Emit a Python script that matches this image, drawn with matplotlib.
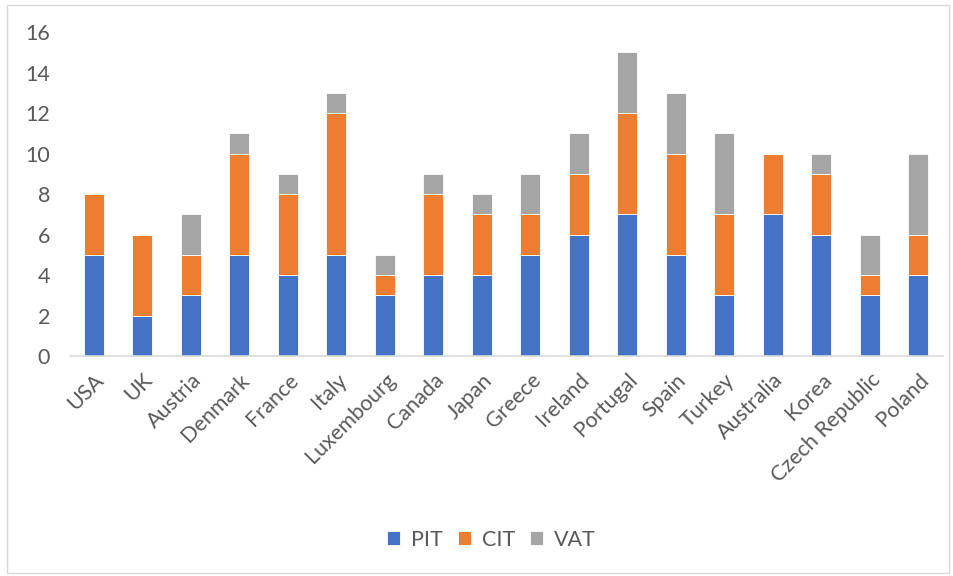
import numpy as np
import matplotlib.pyplot as plt
from matplotlib.patches import Rectangle

countries = ['USA', 'UK', 'Austria', 'Denmark', 'France', 'Italy', 'Luxembourg',
             'Canada', 'Japan', 'Greece', 'Ireland', 'Portugal', 'Spain', 'Turkey',
             'Australia', 'Korea', 'Czech Republic', 'Poland']
pit = [5, 2, 3, 5, 4, 5, 3, 4, 4, 5, 6, 7, 5, 3, 7, 6, 3, 4]
cit = [3, 4, 2, 5, 4, 7, 1, 4, 3, 2, 3, 5, 5, 4, 3, 3, 1, 2]
vat = [0, 0, 2, 1, 1, 1, 1, 1, 1, 2, 2, 3, 3, 4, 0, 1, 2, 4]

plt.rcParams['font.family'] = ['Lato', 'DejaVu Sans']

fig = plt.figure(figsize=(9.54, 5.76), dpi=100)
ax = fig.add_axes([0.073, 0.382, 0.915, 0.562])

x = np.arange(len(countries))
w = 0.41
pit = np.array(pit)
cit = np.array(cit)
vat = np.array(vat)

ax.bar(x, pit, w, color='#4472C4', edgecolor='white', linewidth=0.6, label='PIT')
ax.bar(x, cit, w, bottom=pit, color='#ED7D31', edgecolor='white', linewidth=0.6, label='CIT')
ax.bar(x, vat, w, bottom=pit + cit, color='#A5A5A5', edgecolor='white', linewidth=0.6, label='VAT')

ax.set_xlim(-0.5, len(countries) - 0.5)
ax.set_ylim(0, 16)
ax.set_yticks(range(0, 17, 2))
ax.set_xticks(x)
ax.set_xticklabels(countries, rotation=45, ha='right', rotation_mode='anchor')
ax.tick_params(axis='both', length=0, labelsize=15.5, colors='#595959')
ax.tick_params(axis='y', pad=14)
ax.tick_params(axis='x', pad=10)

for s in ['top', 'right', 'left']:
    ax.spines[s].set_visible(False)
ax.spines['bottom'].set_color('#D9D9D9')
ax.spines['bottom'].set_linewidth(1.2)

fig.legend(loc='center', bbox_to_anchor=(0.515, 0.063), ncol=3, frameon=False,
           fontsize=15.5, handlelength=0.6, handleheight=0.6, columnspacing=0.7,
           handletextpad=0.5, labelcolor='#595959')

fig.patches.append(Rectangle((0.007, 0.006), 0.988, 0.985, transform=fig.transFigure,
                             fill=False, edgecolor='#D9D9D9', linewidth=1))

fig.savefig('out.png', dpi=100)
